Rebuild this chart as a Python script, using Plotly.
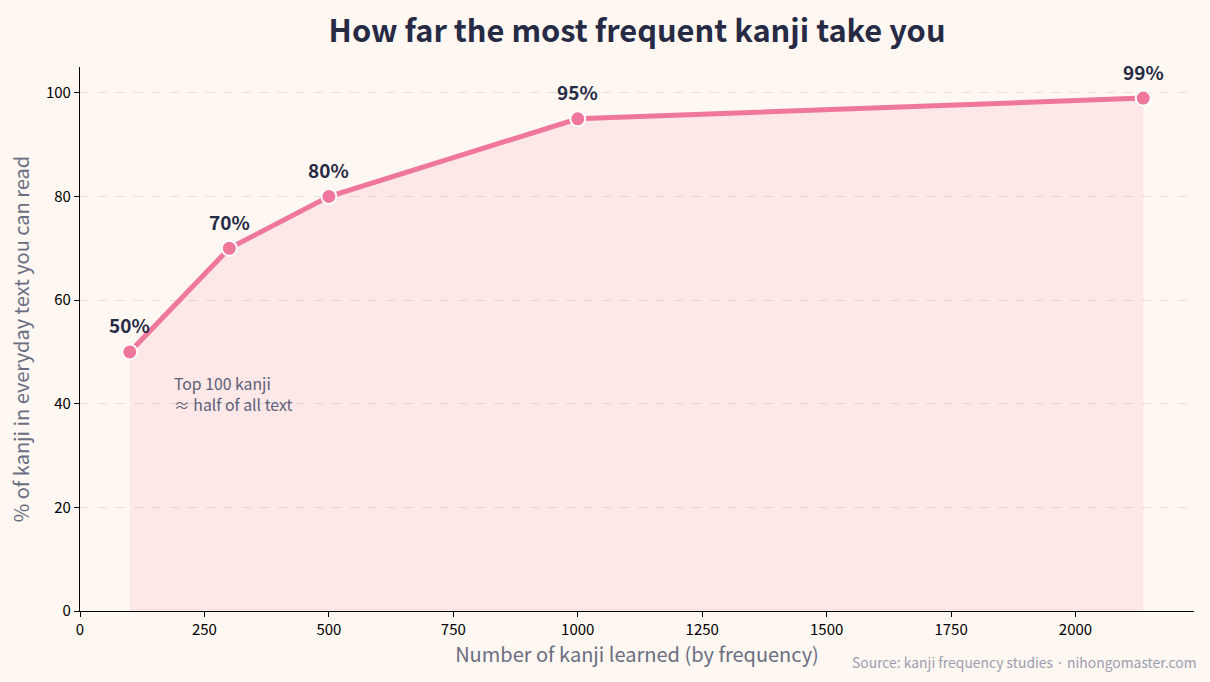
import plotly.graph_objects as go

kanji_counts = [100, 300, 500, 1000, 2136]
coverage = [50, 70, 80, 95, 99]
labels = ["50%", "70%", "80%", "95%", "99%"]
x_ticks = [0, 250, 500, 750, 1000, 1250, 1500, 1750, 2000]
y_ticks = [0, 20, 40, 60, 80, 100]
note_lines = ["Top 100 kanji", "≈ half of all text"]

FONT = "Noto Sans CJK JP"
PINK = "#f0779c"
NAVY = "#262a45"
BG = "#fef7f2"

fig = go.Figure()
fig.add_trace(go.Scatter(
    x=kanji_counts, y=coverage, mode="lines",
    fill="tozeroy", fillcolor="rgba(245,119,156,0.12)",
    line=dict(color="rgba(240,119,156,0.10)", width=1.5),
    hoverinfo="skip", showlegend=False,
))
fig.add_trace(go.Scatter(
    x=kanji_counts, y=coverage, mode="lines+markers",
    line=dict(color=PINK, width=5),
    marker=dict(size=15, color=PINK, line=dict(color="white", width=2)),
    showlegend=False,
))
for xv, yv, t in zip(kanji_counts, coverage, labels):
    fig.add_annotation(x=xv, y=yv, text=f"<b>{t}</b>", showarrow=False,
                       yshift=27, font=dict(family=FONT, size=19, color=NAVY))

for i, line in enumerate(note_lines):
    fig.add_annotation(x=186, y=43.1, yshift=-21 * i + 4.5, text=line, borderpad=0,
                       showarrow=False, xanchor="left", yanchor="middle", align="left",
                       font=dict(family=FONT, size=15.8, color="#5b6079"))

fig.add_annotation(xref="paper", yref="paper", x=1.0045, y=-0.072,
                   text="Source: kanji frequency studies · nihongomaster.com",
                   showarrow=False, xanchor="right", yanchor="top",
                   font=dict(family=FONT, size=13.9, color="#9c9eb0"))

fig.update_layout(
    width=1210, height=682,
    paper_bgcolor=BG, plot_bgcolor=BG,
    margin=dict(l=80, r=16, t=67, b=71),
    title=dict(text="<b>How far the most frequent kanji take you</b>",
               x=0.5265, xanchor="center", y=0.954, yanchor="middle",
               font=dict(family=FONT, size=30.8, color=NAVY)),
    font=dict(family=FONT),
    xaxis=dict(range=[0, 2238], tickvals=x_ticks, showgrid=False, zeroline=False,
               showline=True, linecolor="black", linewidth=1.2,
               ticks="outside", ticklen=5, tickcolor="black",
               tickfont=dict(family=FONT, size=15, color="black"),
               title=dict(text="Number of kanji learned (by frequency)",
                          font=dict(family=FONT, size=20, color="#6b6e82"), standoff=8)),
    yaxis=dict(range=[0, 105], tickvals=y_ticks, zeroline=False,
               showgrid=True, gridcolor="#e4dfdb", griddash="dash", gridwidth=1,
               showline=True, linecolor="black", linewidth=1.2,
               ticks="outside", ticklen=5, tickcolor="black",
               tickfont=dict(family=FONT, size=15, color="black"),
               title=dict(text="% of kanji in everyday text you can read",
                          font=dict(family=FONT, size=20, color="#6b6e82"), standoff=10)),
)

fig.write_html("out.html")
